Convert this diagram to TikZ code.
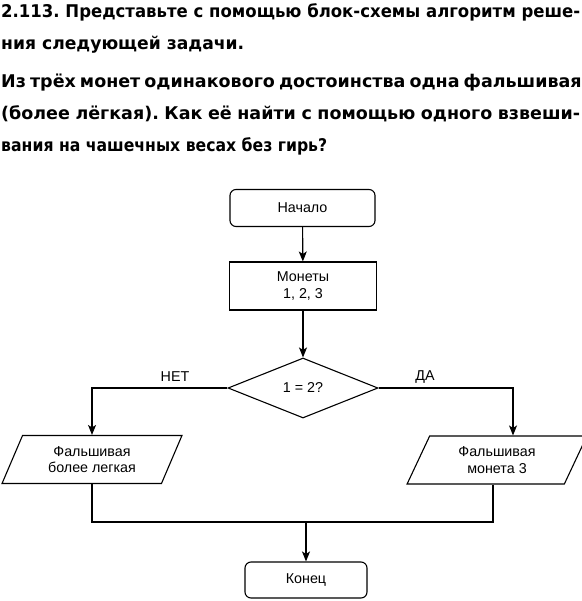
\documentclass[tikz,border=0pt]{standalone}
\usepackage{fontspec}
\usepackage{graphicx}
\setmainfont{Liberation Sans}
\newfontfamily\titlefont{DejaVu Sans}
\usetikzlibrary{shapes.geometric,arrows.meta}
\frenchspacing
\begin{document}
\begin{tikzpicture}[x=1pt,y=-1pt,
  every node/.style={font=\fontsize{14.3}{16.5}\selectfont},
  term/.style={draw,line width=1.1pt,rounded corners=6pt,inner sep=0pt},
  proc/.style={draw,line width=1.1pt,inner sep=0pt,align=center},
  decis/.style={draw,line width=1.1pt,diamond,inner sep=0pt,minimum width=150pt,minimum height=60pt},
  io/.style={draw,line width=1.1pt,trapezium,trapezium left angle=64,trapezium right angle=116,trapezium stretches=true,minimum width=180pt,minimum height=48pt,inner sep=0pt,align=center},
  conn/.style={line width=1.1pt},
  arr/.style={conn,-{Stealth[length=10pt,width=8pt,inset=2.5pt]}},
  ttl/.style={anchor=base west,inner sep=0pt,font=\titlefont\bfseries\fontsize{17.5}{20}\selectfont}]
\useasboundingbox (0,0) rectangle (581,601);
% title text
\node[ttl] (t1) at (1,18) {\resizebox{579pt}{\height}{2.113. Представьте с помощью блок-схемы алгоритм реше-}};
\node[ttl] (t2) at (1,50) {\resizebox{243pt}{\height}{ния следующей задачи.}};
\node[ttl] (t3) at (1,88) {\makebox[579pt][s]{Из трёх монет одинакового достоинства одна фальшивая}};
\node[ttl] (t4) at (1,120) {\makebox[579pt][s]{(более лёгкая). Как её найти с помощью одного взвеши-}};
\node[ttl] (t5) at (1,152) {\resizebox{326pt}{\height}{вания на чашечных весах без гирь?}};
% flowchart
\node[term,minimum width=145pt,minimum height=37pt] (start) at (302.5,208) {Начало};
\node[proc,minimum width=147pt,minimum height=48pt] (mon) at (303,286) {Монеты\\1, 2, 3};
\node[decis] (dec) at (303,388) {1 = 2?};
\node[io] (left) at (92,459.5) {Фальшивая\\более легкая};
\node[io] (right) at (497,460) {Фальшивая\\монета 3};
\node[term,minimum width=122pt,minimum height=36pt] (end) at (306,580) {Конец};
\coordinate (j) at (306,522);
\draw[arr] (start) -- (mon);
\draw[arr] (mon) -- (dec);
\draw[arr] (dec.west) -| (left.north);
\draw[arr] (dec.east) -| ([xshift=16pt]right.north);
\node (no) at (175,377) {НЕТ};
\node (yes) at (425,377) {ДА};
\draw[conn] (left.south) |- (j);
\draw[conn] ([xshift=-4pt]right.south) |- (j);
\draw[arr] (j) -- (end);
\end{tikzpicture}
\end{document}
